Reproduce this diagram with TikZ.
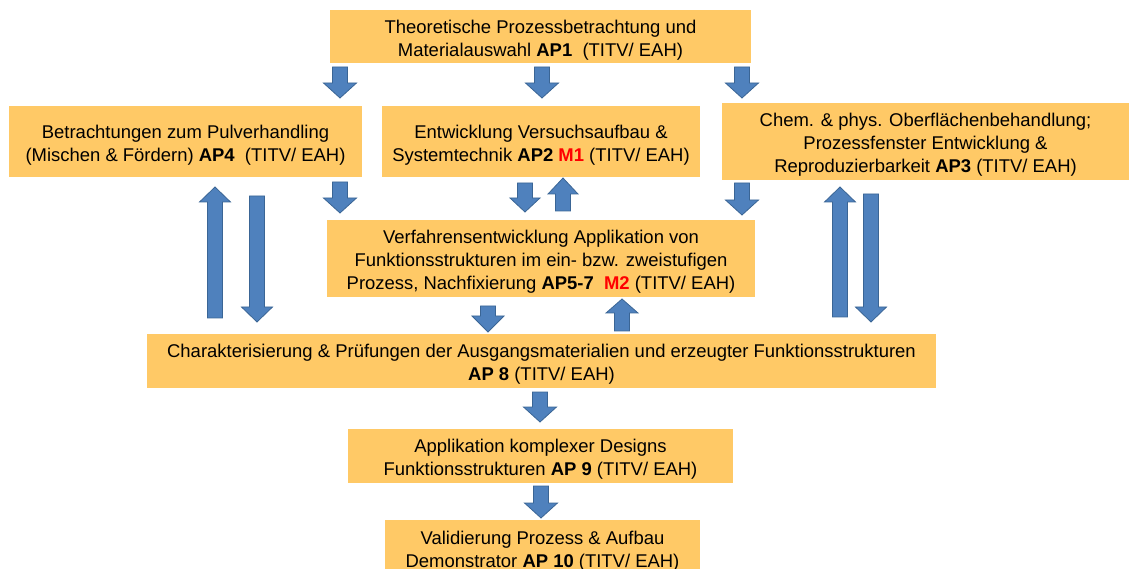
\documentclass[tikz,border=0pt]{standalone}
\usepackage{fontspec}
\setmainfont{Liberation Sans}
\definecolor{boxfill}{HTML}{FFC966}
\definecolor{arrfill}{HTML}{4F81BD}
\definecolor{arrdraw}{HTML}{3A6595}
\definecolor{mred}{HTML}{FF0000}
\newcommand\blockarr[5]{% x, ystart, yhead, ytip, headhalfwidth
  \path[barrow] (#1-7.5,#2) -- (#1-7.5,#3) -- (#1-#5,#3) -- (#1,#4) -- (#1+#5,#3) -- (#1+7.5,#3) -- (#1+7.5,#2) -- cycle;}
\newcommand\tstrut{\rule{0pt}{20.5pt}}
\begin{document}
\begin{tikzpicture}[x=1pt,y=-1pt,
  box/.style={fill=boxfill, draw=none, inner sep=0pt, align=center,
    font=\fontsize{18.45}{23}\selectfont},
  barrow/.style={fill=arrfill, draw=arrdraw, line width=0.8pt, line join=miter}]
\useasboundingbox (0,0) rectangle (1130,569);
\clip (0,0) rectangle (1130,569);

\node[box, minimum width=421, minimum height=53] (ap1) at (540.5,36.5)
  {\tstrut Theoretische Prozessbetrachtung und\\Materialauswahl \textbf{AP1} ~(TITV/ EAH)};
\node[box, minimum width=353, minimum height=71] (ap4) at (185.5,141.5)
  {\tstrut Betrachtungen zum Pulverhandling\\(Mischen \& Fördern) \textbf{AP4} ~(TITV/ EAH)};
\node[box, minimum width=318, minimum height=71] (ap2) at (541,141.5)
  {\tstrut Entwicklung Versuchsaufbau \&\\Systemtechnik \textbf{AP2} \textcolor{mred}{\textbf{M1}} (TITV/ EAH)};
\node[box, minimum width=407, minimum height=77] (ap3) at (925.5,141.5)
  {\tstrut Chem. \& phys. Oberflächenbehandlung;\\Prozessfenster Entwicklung \&\\Reproduzierbarkeit \textbf{AP3} (TITV/ EAH)};
\node[box, minimum width=428, minimum height=77] (ap57) at (541,258.5)
  {\tstrut Verfahrensentwicklung Applikation von\\Funktionsstrukturen im ein- bzw. zweistufigen\\Prozess, Nachfixierung \textbf{AP5-7} ~\textcolor{mred}{\textbf{M2}} (TITV/ EAH)};
\node[box, minimum width=789, minimum height=54] (ap8) at (541.5,361)
  {\tstrut Charakterisierung \& Prüfungen der Ausgangsmaterialien und erzeugter Funktionsstrukturen\\\textbf{AP 8} (TITV/ EAH)};
\node[box, minimum width=385, minimum height=54] (ap9) at (540.5,456)
  {\tstrut Applikation komplexer Designs\\Funktionsstrukturen \textbf{AP 9} (TITV/ EAH)};
\node[box, minimum width=315, minimum height=55] (ap10) at (542.5,547.5)
  {\tstrut Validierung Prozess \& Aufbau\\Demonstrator \textbf{AP 10} (TITV/ EAH)};

% arrows below AP1
\blockarr{340}{67}{83}{98}{16.5}
\blockarr{542}{67}{83}{98}{16.5}
\blockarr{742}{67}{83}{98}{16.5}
% arrows into AP5-7
\blockarr{340}{182}{198}{213}{16.5}
\blockarr{525}{183}{198}{212}{15}
\blockarr{563}{211}{194}{178}{15}
\blockarr{742}{183}{200}{215}{16.5}
% long arrows
\blockarr{215}{318}{202}{187}{15.5}
\blockarr{257}{196}{307}{322}{15.5}
\blockarr{840}{317}{202}{187}{15.5}
\blockarr{871}{194}{307}{322}{15.5}
% AP5-7 <-> AP8
\blockarr{488}{306}{316}{332}{16}
\blockarr{622}{331}{313}{299}{16}
% AP8 -> AP9 -> AP10
\blockarr{540}{392}{407}{422}{16.5}
\blockarr{541}{486}{503}{518}{16.5}
\end{tikzpicture}
\end{document}
